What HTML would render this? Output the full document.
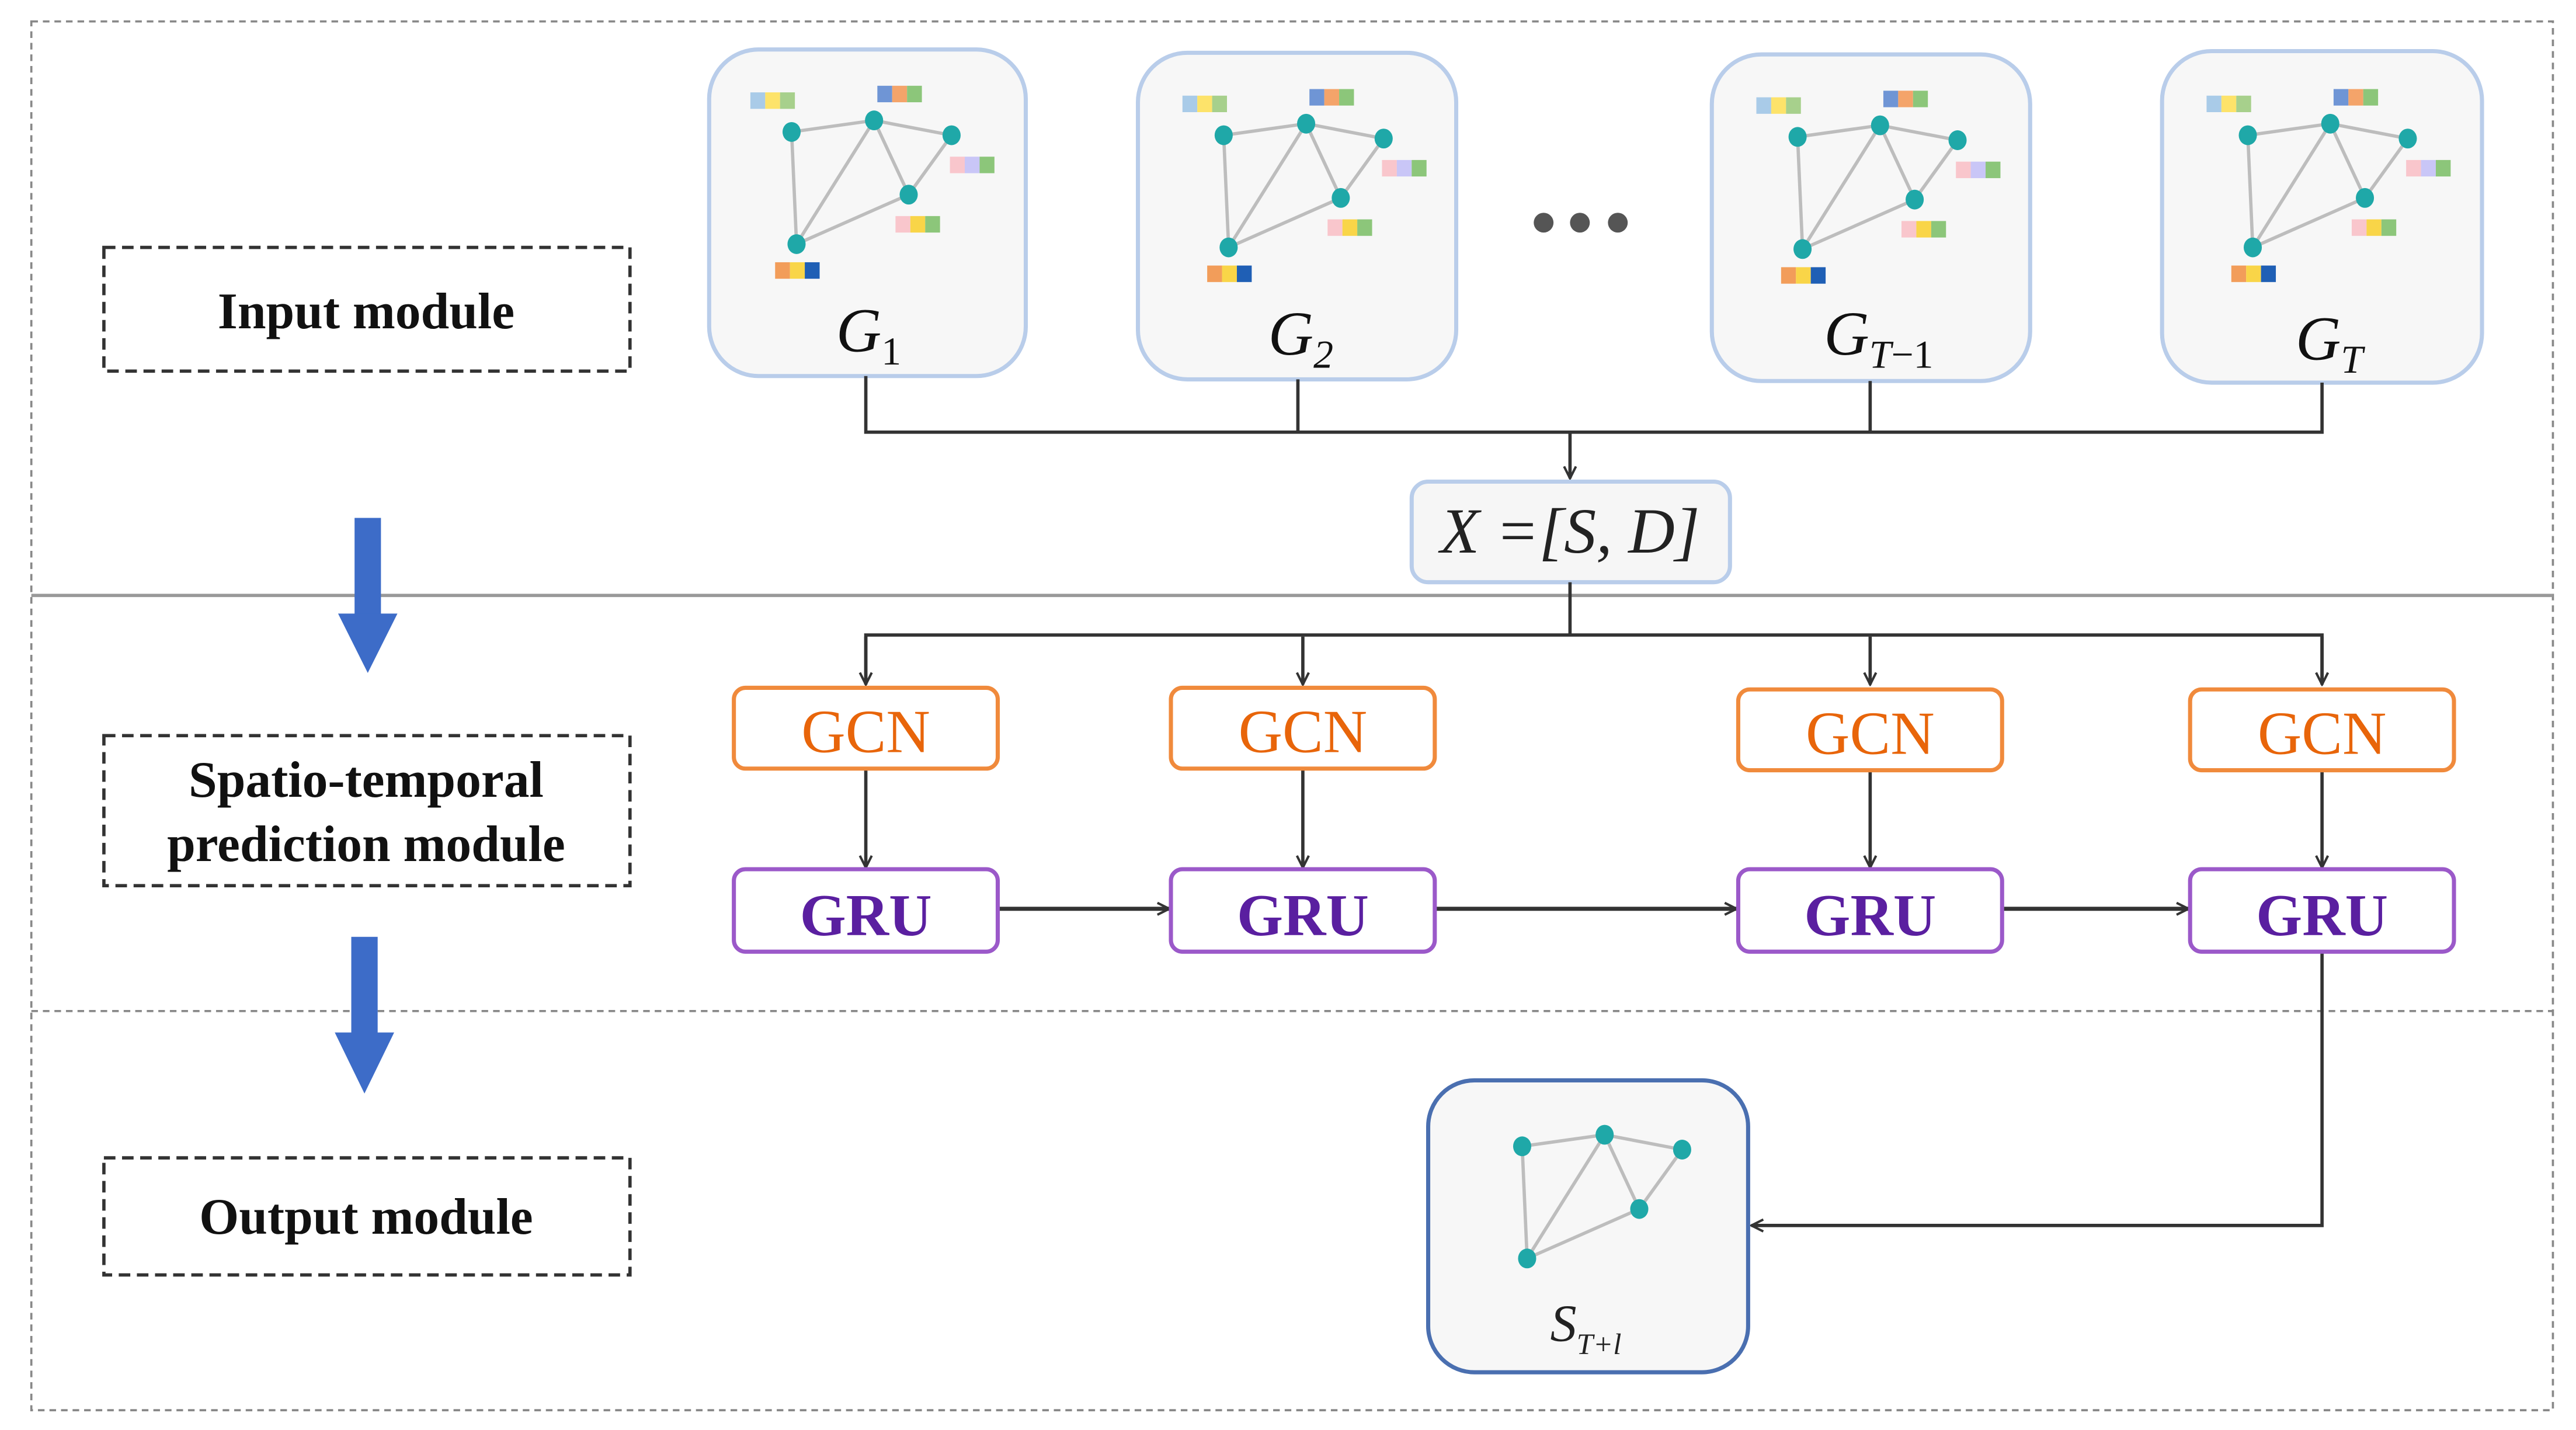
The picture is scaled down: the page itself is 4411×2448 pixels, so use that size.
<!DOCTYPE html>
<html><head><meta charset="utf-8"><style>html,body{margin:0;padding:0;background:#fff}svg{display:block}</style></head>
<body>
<svg width="4411" height="2448" viewBox="0 0 1562 867" preserveAspectRatio="none" xmlns="http://www.w3.org/2000/svg">
<defs>
<marker id="ah" viewBox="0 0 10 10" refX="9" refY="5" markerWidth="9" markerHeight="9" markerUnits="userSpaceOnUse" orient="auto">
<path d="M1,1 L9,5 L1,9" fill="none" stroke="#333" stroke-width="1.6"/>
</marker>
<g id="graph">
<g stroke="#bdbdbd" stroke-width="2" fill="none">
<line x1="50" y1="50" x2="100" y2="43"/><line x1="100" y1="43" x2="147" y2="52"/>
<line x1="50" y1="50" x2="53" y2="118"/><line x1="100" y1="43" x2="53" y2="118"/>
<line x1="100" y1="43" x2="121" y2="88"/><line x1="147" y1="52" x2="121" y2="88"/>
<line x1="121" y1="88" x2="53" y2="118"/>
</g>
<g fill="#1fa8a8">
<ellipse cx="50" cy="50" rx="5.5" ry="6"/><ellipse cx="100" cy="43" rx="5.5" ry="6"/>
<ellipse cx="147" cy="52" rx="5.5" ry="6"/><ellipse cx="121" cy="88" rx="5.5" ry="6"/>
<ellipse cx="53" cy="118" rx="5.5" ry="6"/>
</g>
</g>
<g id="bars">
<rect x="25" y="26" width="9" height="10" fill="#a9cbe8"/><rect x="34" y="26" width="9" height="10" fill="#fde36a"/><rect x="43" y="26" width="9" height="10" fill="#a7d08c"/>
<rect x="102" y="22" width="9" height="10" fill="#6f95d5"/><rect x="111" y="22" width="9" height="10" fill="#f4a46a"/><rect x="120" y="22" width="9" height="10" fill="#8cc67a"/>
<rect x="146" y="65" width="9" height="10" fill="#f9c6cc"/><rect x="155" y="65" width="9" height="10" fill="#c9c6f7"/><rect x="164" y="65" width="9" height="10" fill="#8cc67a"/>
<rect x="113" y="101" width="9" height="10" fill="#f9c6cc"/><rect x="122" y="101" width="9" height="10" fill="#f9d548"/><rect x="131" y="101" width="9" height="10" fill="#8cc67a"/>
<rect x="40" y="129" width="9" height="10" fill="#f29d5a"/><rect x="49" y="129" width="9" height="10" fill="#f9d548"/><rect x="58" y="129" width="9" height="10" fill="#1f5fb5"/>
</g>
</defs>

<rect x="19" y="13" width="1529" height="842" fill="none" stroke="#888" stroke-width="1.3" stroke-dasharray="4,3"/>
<line x1="19" y1="361" x2="1548" y2="361" stroke="#999" stroke-width="2"/>
<line x1="19" y1="613" x2="1548" y2="613" stroke="#888" stroke-width="1.3" stroke-dasharray="4,3"/>

<g fill="none" stroke="#333" stroke-width="2" stroke-dasharray="7,4">
<rect x="63" y="150" width="319" height="75"/>
<rect x="63" y="446" width="319" height="91"/>
<rect x="63" y="702" width="319" height="71"/>
</g>
<g font-family="Liberation Serif, serif" font-weight="bold" font-size="31" fill="#111" text-anchor="middle">
<text x="222" y="199">Input module</text>
<text x="222" y="483">Spatio-temporal</text>
<text x="222" y="522">prediction module</text>
<text x="222" y="748">Output module</text>
</g>

<g fill="#3d6cc8">
<rect x="215" y="314" width="16" height="60"/><polygon points="205,372 241,372 223,408"/>
<rect x="213" y="568" width="16" height="60"/><polygon points="203,626 239,626 221,663"/>
</g>

<g fill="#f7f7f7" stroke="#b9cdea" stroke-width="2.5">
<rect x="430" y="30" width="192" height="198" rx="30"/>
<rect x="690" y="32" width="193" height="198" rx="30"/>
<rect x="1038" y="33" width="193" height="198" rx="30"/>
<rect x="1311" y="31" width="194" height="201" rx="30"/>
</g>
<use href="#graph" x="430" y="30"/><use href="#bars" x="430" y="30"/>
<use href="#graph" x="692" y="32"/><use href="#bars" x="692" y="32"/>
<use href="#graph" x="1040" y="33"/><use href="#bars" x="1040" y="33"/>
<use href="#graph" x="1313" y="32"/><use href="#bars" x="1313" y="32"/>
<g font-family="Liberation Serif, serif" font-style="italic" font-size="38" fill="#111">
<text x="507" y="213">G<tspan font-style="normal" font-size="24" dy="8">1</tspan></text>
<text x="769" y="215">G<tspan font-size="24" dy="8">2</tspan></text>
<text x="1106" y="215">G<tspan font-size="24" dy="8">T<tspan font-style="normal">−1</tspan></tspan></text>
<text x="1392" y="218">G<tspan font-size="24" dy="8">T</tspan></text>
</g>
<g fill="#555"><circle cx="936" cy="135" r="6"/><circle cx="958" cy="135" r="6"/><circle cx="981" cy="135" r="6"/></g>

<g stroke="#333" stroke-width="2" fill="none">
<polyline points="525,228 525,262 1408,262 1408,232"/>
<line x1="787" y1="230" x2="787" y2="262"/>
<line x1="1134" y1="231" x2="1134" y2="262"/>
<line x1="952" y1="262" x2="952" y2="290" marker-end="url(#ah)"/>
</g>

<rect x="856" y="292" width="193" height="61" rx="10" fill="#f6f6f6" stroke="#b9cdea" stroke-width="2.5"/>
<text x="952" y="335" text-anchor="middle" font-family="Liberation Serif, serif" font-style="italic" font-size="39" fill="#222">X =[S, D]</text>

<g stroke="#333" stroke-width="2" fill="none">
<polyline points="952,353 952,385"/>
<polyline points="525,415 525,385 1408,385 1408,415"/>
<line x1="525" y1="386" x2="525" y2="415" marker-end="url(#ah)"/>
<line x1="790" y1="386" x2="790" y2="415" marker-end="url(#ah)"/>
<line x1="1134" y1="386" x2="1134" y2="415" marker-end="url(#ah)"/>
<line x1="1408" y1="386" x2="1408" y2="415" marker-end="url(#ah)"/>
<line x1="525" y1="466" x2="525" y2="526" marker-end="url(#ah)"/>
<line x1="790" y1="466" x2="790" y2="526" marker-end="url(#ah)"/>
<line x1="1134" y1="467" x2="1134" y2="526" marker-end="url(#ah)"/>
<line x1="1408" y1="467" x2="1408" y2="526" marker-end="url(#ah)"/>
<line x1="605" y1="551" x2="709" y2="551" marker-end="url(#ah)" stroke-width="2.5"/>
<line x1="870" y1="551" x2="1053" y2="551" marker-end="url(#ah)" stroke-width="2.5"/>
<line x1="1214" y1="551" x2="1327" y2="551" marker-end="url(#ah)" stroke-width="2.5"/>
<polyline points="1408,577 1408,743 1062,743" marker-end="url(#ah)"/>
</g>

<g fill="#fff" stroke="#f08a3c" stroke-width="2.5">
<rect x="445" y="417" width="160" height="49" rx="7"/>
<rect x="710" y="417" width="160" height="49" rx="7"/>
<rect x="1054" y="418" width="160" height="49" rx="7"/>
<rect x="1328" y="418" width="160" height="49" rx="7"/>
</g>
<g fill="#fff" stroke="#9b59c9" stroke-width="2.5">
<rect x="445" y="527" width="160" height="50" rx="7"/>
<rect x="710" y="527" width="160" height="50" rx="7"/>
<rect x="1054" y="527" width="160" height="50" rx="7"/>
<rect x="1328" y="527" width="160" height="50" rx="7"/>
</g>
<g font-family="Liberation Serif, serif" font-size="37" text-anchor="middle" fill="#e8650a">
<text x="525" y="456">GCN</text><text x="790" y="456">GCN</text><text x="1134" y="457">GCN</text><text x="1408" y="457">GCN</text>
</g>
<g font-family="Liberation Serif, serif" font-weight="bold" font-size="36" text-anchor="middle" fill="#5a1fa0">
<text x="525" y="567">GRU</text><text x="790" y="567">GRU</text><text x="1134" y="567">GRU</text><text x="1408" y="567">GRU</text>
</g>

<rect x="866" y="655" width="194" height="177" rx="28" fill="#f7f7f7" stroke="#4a6fb0" stroke-width="2.5"/>
<use href="#graph" x="873" y="645"/>
<text x="940" y="813" font-family="Liberation Serif, serif" font-style="italic" font-size="32" fill="#222">S<tspan font-size="18" dy="8">T+l</tspan></text>
</svg>
</body></html>
